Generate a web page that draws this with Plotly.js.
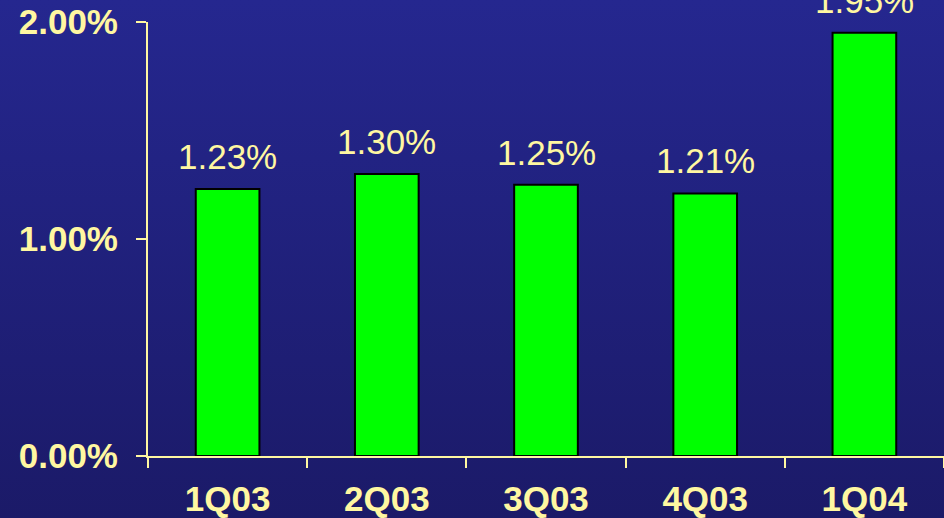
<!DOCTYPE html>
<html>
<head>
<meta charset="utf-8">
<script src="https://cdn.plot.ly/plotly-3.0.1.min.js"></script>
<style>
html,body{margin:0;padding:0;width:944px;height:518px;overflow:hidden;background:linear-gradient(#25278F,#1B1A68);}
#chart{width:944px;height:518px;}
</style>
</head>
<body>
<div id="chart"></div>
<script>
const categories = ["1Q03", "2Q03", "3Q03", "4Q03", "1Q04"];
const values = [1.23, 1.30, 1.25, 1.21, 1.95];
const valueLabels = ["1.23%", "1.30%", "1.25%", "1.21%", "1.95%"];
const yTickVals = [0, 1, 2];
const yTickText = ["0.00%", "1.00%", "2.00%"];

const yellow = "#FFF7A1";

const trace = {
  type: "bar",
  x: categories,
  y: values,
  marker: {color: "#00FF00", line: {color: "#000000", width: 2}},
  width: 0.4,
  hoverinfo: "none"
};

const annotations = categories.map((c, i) => ({
  x: c, y: values[i], xref: "x", yref: "y",
  text: valueLabels[i], showarrow: false,
  yanchor: "bottom", yshift: 11,
  font: {family: "Liberation Sans, Arial, sans-serif", size: 35, color: yellow}
}));

const layout = {
  width: 944, height: 518,
  margin: {l: 148, r: 0, t: 22, b: 62},
  paper_bgcolor: "rgba(0,0,0,0)",
  plot_bgcolor: "rgba(0,0,0,0)",
  showlegend: false,
  xaxis: {
    type: "category",
    showgrid: false, zeroline: false,
    showline: true, linecolor: yellow, linewidth: 2,
    ticks: "outside", tickson: "boundaries", ticklen: 10, tickwidth: 2, tickcolor: yellow,
    ticklabelstandoff: 11,
    tickfont: {family: "Liberation Sans, Arial, sans-serif", size: 35, color: yellow, weight: "bold"},
    range: [-0.5, 4.5]
  },
  yaxis: {
    range: [0, 2],
    showgrid: false, zeroline: false,
    showline: true, linecolor: yellow, linewidth: 2,
    ticks: "outside", ticklen: 10, tickwidth: 2, tickcolor: yellow,
    tickvals: yTickVals, ticktext: yTickText,
    ticklabelstandoff: 11,
    tickfont: {family: "Liberation Sans, Arial, sans-serif", size: 35, color: yellow, weight: "bold"}
  },
  annotations: annotations
};

Plotly.newPlot("chart", [trace], layout, {displayModeBar: false, staticPlot: true});
</script>
</body>
</html>
